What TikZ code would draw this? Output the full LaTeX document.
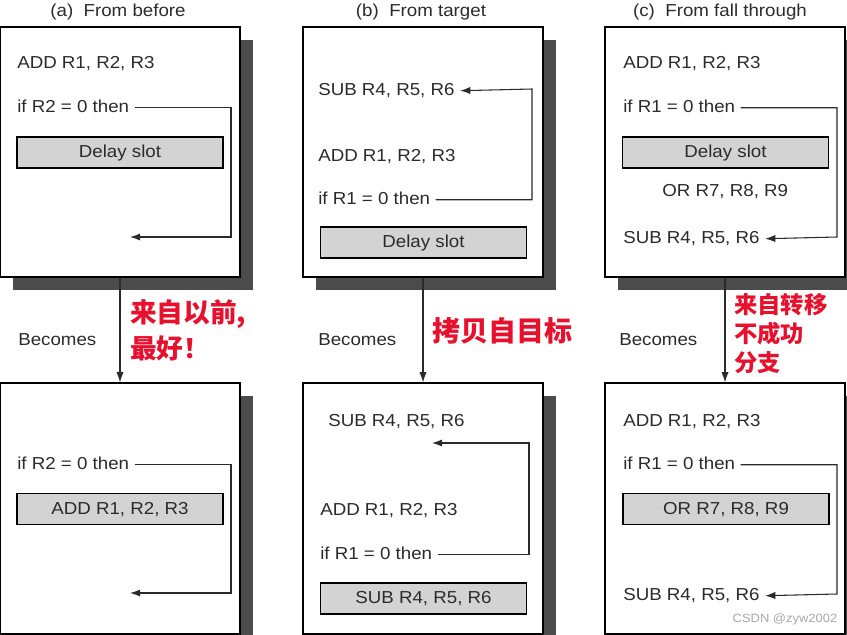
\documentclass[tikz,border=0pt]{standalone}
\usepackage{fontspec}
\setmainfont{Liberation Sans}[FakeStretch=1.08]
\newfontfamily\cjk{Noto Sans CJK SC}
\usepackage{tikz}
\usetikzlibrary{arrows.meta,shadows}
\definecolor{ink}{HTML}{2B2B2B}
\definecolor{slotgrey}{HTML}{D3D3D3}
\definecolor{shade}{HTML}{4B4B4B}
\definecolor{note}{HTML}{E8112D}
\definecolor{wmgrey}{HTML}{A8A8A8}
\begin{document}
\begin{tikzpicture}[x=0.75pt,y=-0.75pt,font=\fontsize{13}{15}\selectfont,text=ink,
     panel/.style={draw=black,line width=.9pt,fill=white,minimum width=180pt,minimum height=187.5pt,inner sep=0pt,
       drop shadow={shadow xshift=9.5pt,shadow yshift=-9.5pt,fill=shade,opacity=1}},
     slot/.style={draw=black,line width=.9pt,fill=slotgrey,minimum width=154.5pt,minimum height=23.25pt,inner sep=0pt,
       text height=1.75ex,text depth=.25ex},
     instr/.style={anchor=west,inner xsep=4pt,xshift=-4pt,yshift=-1.3pt,inner ysep=0pt,text height=1.7ex,text depth=.3ex},
     jmp/.style={draw=ink,line width=.8pt},
     arr/.style={jmp,-{Latex[length=2.7mm,width=1.9mm]}},
     zh/.style={text=note,align=left,anchor=west,inner sep=0pt}]
    \useasboundingbox (0,0) rectangle (847,635);
    \clip (0,0) rectangle (847,635);
    % titles
    \node (tta) at (118,12){(a)~~From before};  \node (ttb) at (421,12){(b)~~From target};
    \node (ttc) at (720,12){(c)~~From fall through};
    % panels
    \node[panel](pa1) at (120,152){};  \node[panel](pb1) at (423,152){};  \node[panel](pc1) at (725,152){};
    \node[panel,minimum height=188.25pt](pa2) at (120,508.5){};
    \node[panel,minimum height=188.25pt](pb2) at (423,508.5){};
    \node[panel,minimum height=188.25pt](pc2) at (725,508.5){};
    \foreach \i/\j in {pa1/pa2,pb1/pb2,pc1/pc2}{\draw[arr](\i.south)--(\j.north);}
    % (a) from before
    \node[instr](adda1) at (17,62){ADD R1, R2, R3};
    \node[instr](ifa1) at (17,106){if R2 = 0 then};
    \node[slot](dsa1) at (120,152.5){Delay slot};
    \coordinate (ka1) at (231,237);  \coordinate (ea1) at (130,237);
    \draw[arr](ifa1.east) -| (ka1) -- (ea1);
    \node[instr](ifa2) at (17,463){if R2 = 0 then};
    \node[slot](dsa2) at (120,509){ADD R1, R2, R3};
    \coordinate (ka2) at (231,593);  \coordinate (ea2) at (130,593);
    \draw[arr](ifa2.east) -| (ka2) -- (ea2);
    % (b) from target
    \node[instr](subb1) at (318,89){SUB R4, R5, R6};
    \node[instr](addb1) at (318,155){ADD R1, R2, R3};
    \node[instr](ifb1) at (318,198){if R1 = 0 then};
    \node[slot](dsb1) at (423.5,242.5){Delay slot};
    \coordinate (kb1) at (532,89);
    \draw[arr](ifb1.east) -| (kb1) -- (subb1.east);
    \node[instr](subb2) at (328,420){SUB R4, R5, R6};
    \node[instr](addb2) at (320,509){ADD R1, R2, R3};
    \node[instr](ifb2) at (320,553){if R1 = 0 then};
    \node[slot](dsb2) at (423.5,598.5){SUB R4, R5, R6};
    \coordinate (kb2) at (529,443);  \coordinate (eb2) at (432,443);
    \draw[arr](ifb2.east) -| (kb2) -- (eb2);
    % (c) from fall through
    \node[instr](addc1) at (623,62){ADD R1, R2, R3};
    \node[instr](ifc1) at (623,106){if R1 = 0 then};
    \node[slot](dsc1) at (725.5,152.5){Delay slot};
    \node[instr](orc1) at (662,190){OR R7, R8, R9};
    \node[instr](subc1) at (623,237){SUB R4, R5, R6};
    \coordinate (kc1) at (837,237);
    \draw[arr](ifc1.east) -| (kc1) -- (subc1.east);
    \node[instr](addc2) at (623,420){ADD R1, R2, R3};
    \node[instr](ifc2) at (623,463){if R1 = 0 then};
    \node[slot](dsc2) at (726,509){OR R7, R8, R9};
    \node[instr](subc2) at (623,594){SUB R4, R5, R6};
    \coordinate (kc2) at (837,594);
    \draw[arr](ifc2.east) -| (kc2) -- (subc2.east);
    % becomes + notes
    \node[instr](bea) at (18,339){Becomes};  \node[instr](beb) at (318,339){Becomes};
    \node[instr](bec) at (619,339){Becomes};
    \node[zh,font=\cjk\bfseries\fontsize{20}{27}\selectfont](zha) at (130,330){来自以前,\\最好！};
    \node[zh,font=\cjk\bfseries\fontsize{21}{25}\selectfont](zhb) at (432,331){拷贝自目标};
    \node[zh,font=\cjk\bfseries\fontsize{17.5}{21.75}\selectfont](zhc) at (734,334){来自转移\\不成功\\分支};
    \node[text=wmgrey,font=\fontsize{9}{10}\selectfont](wm) at (785,619){CSDN @zyw2002};
  \end{tikzpicture}
\end{document}
